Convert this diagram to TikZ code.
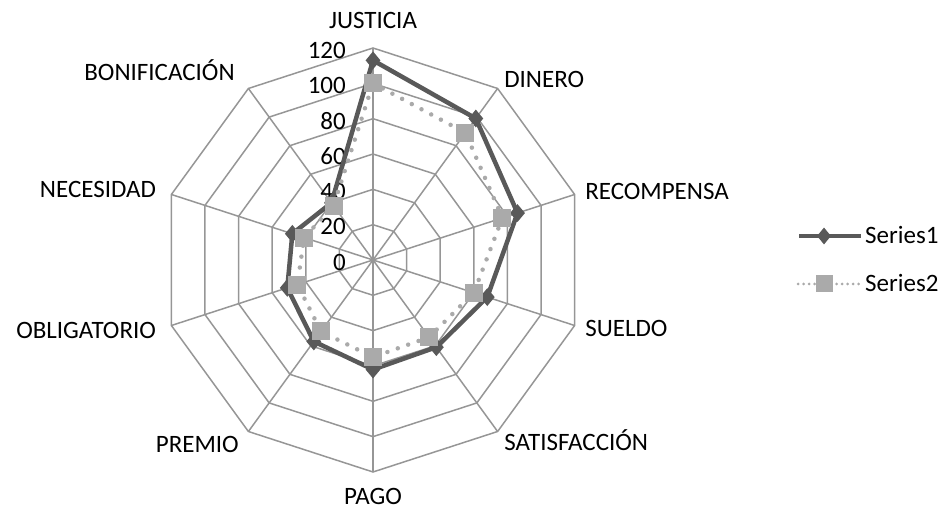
\documentclass[tikz,border=0pt]{standalone}
\usepackage{fontspec}
\setmainfont{Carlito}
\usepackage{tikz}
\usetikzlibrary{positioning,shapes.geometric}
\usepackage{xcolor}
\definecolor{gridgray}{RGB}{150,150,150}
\definecolor{seriesone}{RGB}{89,89,89}
\definecolor{seriestwo}{RGB}{170,170,170}

\begin{document}
\begin{tikzpicture}[x=1pt,y=1pt,
  grid/.style={gridgray,line width=1.5pt},
  lbl/.style={font=\fontsize{25}{29}\selectfont,inner sep=0pt},
  sone/.style={seriesone,line width=4.5pt,line join=round},
  stwo/.style={seriestwo,line width=4.5pt,line cap=round,dash pattern=on 0pt off 11pt},
  dmark/.style={diamond,fill=seriesone,inner sep=0pt,minimum width=15pt,minimum height=18pt},
  smark/.style={rectangle,fill=seriestwo,inner sep=0pt,minimum size=18pt}]
\useasboundingbox (0,0) rectangle (944,510);
\begin{scope}[shift={(373,250)}]
% web: rings and spokes
\foreach \r in {1,...,6}
  \draw[grid] (90:\r*35.333) \foreach \a in {126,162,...,414}{ -- (\a:\r*35.333)} -- cycle;
\foreach \a in {90,54,...,-234}
  \draw[grid] (0,0) -- (\a:212);
% scale
\foreach \v in {0,20,...,120}
  \node[lbl,anchor=east] (tick\v) at (-27,\v*1.7667-2) {\v};
% axis names
\node[lbl] (justicia) at (90:240) {JUSTICIA};
\node[lbl,anchor=west] (dinero) at (54:223) {DINERO};
\node[lbl,anchor=west] (recompensa) at (18:223) {RECOMPENSA};
\node[lbl,anchor=west] (sueldo) at (-18:223) {SUELDO};
\node[lbl,anchor=west] (satisfaccion) at (-54:223) {SATISFACCIÓN};
\node[lbl] (pago) at (-90:236) {PAGO};
\node[lbl,anchor=east] (premio) at (-126:228) {PREMIO};
\node[lbl,anchor=east] (obligatorio) at (-162:228) {OBLIGATORIO};
\node[lbl,anchor=east] (necesidad) at (162:228) {NECESIDAD};
\node[lbl,anchor=east] (bonificacion) at (126:235) {BONIFICACIÓN};
% data points
\foreach \a/\v [count=\i] in {90/113,54/99,18/86,-18/68,-54/61,-90/62,-126/57,-162/51,162/48,126/40}
  \coordinate (p\i) at (\a:\v*1.7667);
\foreach \a/\v [count=\i] in {90/100,54/89,18/77,-18/60,-54/54,-90/55,-126/50,-162/45,162/41,126/38}
  \coordinate (q\i) at (\a:\v*1.7667);
% series 1
\draw[sone] (p1) -- (p2) -- (p3) -- (p4) -- (p5) -- (p6) -- (p7) -- (p8) -- (p9) -- (p10) -- cycle;
\foreach \i in {1,...,10}
  \node[dmark] (pm\i) at (p\i) {};
% series 2
\draw[stwo] (q1) -- (q2) -- (q3) -- (q4) -- (q5) -- (q6) -- (q7) -- (q8) -- (q9) -- (q10) -- cycle;
\foreach \i in {1,...,10}
  \node[smark] (qm\i) at (q\i) {};
\end{scope}
% legend
\node[lbl,anchor=west] (legone) at (865,275) {Series1};
\node[lbl,anchor=west] (legtwo) at (865,227) {Series2};
\coordinate (legonestart) at (799,274);
\coordinate (legtwostart) at (798,226);
\draw[seriesone,line width=4pt] (legonestart) -- ([xshift=-4pt]legone.west |- legonestart);
\draw[seriestwo,line width=3pt,line cap=round,dash pattern=on 0pt off 5.5pt] (legtwostart) -- ([xshift=-6pt]legtwo.west |- legtwostart);
\node[dmark,minimum width=14pt,minimum height=17pt] (legonemark) at (824,274) {};
\node[smark,minimum size=17pt] (legtwomark) at (824,226) {};
\end{tikzpicture}
\end{document}
